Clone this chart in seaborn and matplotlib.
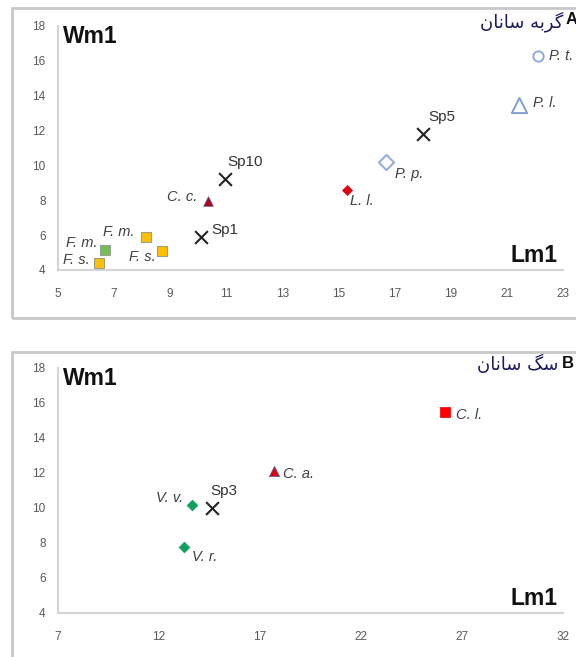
import matplotlib
matplotlib.use("Agg")
import matplotlib.pyplot as plt
import seaborn as sns
import pandas as pd
from matplotlib.patches import Rectangle

# ---------------- data ----------------
# Panel A (Felids)
a_labels = ["F. m.", "F. s.", "F. m.", "F. s.", "Sp1", "C. c.", "Sp10", "L. l.", "P. p.", "Sp5", "P. l.", "P. t."]
a_lm1 = [6.68, 6.47, 8.13, 8.72, 10.1, 10.36, 10.95, 15.29, 16.69, 18.02, 21.43, 22.1]
a_wm1 = [5.15, 4.38, 5.88, 5.11, 5.88, 7.96, 9.2, 8.59, 10.21, 11.78, 13.47, 16.28]
a_group = ["green_sq", "yellow_sq", "yellow_sq", "yellow_sq", "sp", "darkred_tri", "sp",
           "red_dia", "open_dia", "sp", "open_tri", "open_circ"]

# Panel B (Canids)
b_labels = ["V. v.", "Sp3", "V. r.", "C. a.", "C. l."]
b_lm1 = [13.65, 14.64, 13.25, 17.69, 26.16]
b_wm1 = [10.15, 9.97, 7.77, 12.11, 15.49]
b_group = ["green_dia", "sp", "green_dia", "red_tri", "red_sq"]

a_xticks = [5, 7, 9, 11, 13, 15, 17, 19, 21, 23]
b_xticks = [7, 12, 17, 22, 27, 32]
yticks = [4, 6, 8, 10, 12, 14, 16, 18]

# Persian titles in visual order using Arabic presentation forms
title_a = "\uFEE5\uFE8E\uFEE7\uFE8E\uFEB3 \uFEEA\uFE91\uFEAE\uFB94"   # گربه سانان
title_b = "\uFEE5\uFE8E\uFEE7\uFE8E\uFEB3 \uFB93\uFEB3"               # سگ سانان

# ---------------- styles ----------------
styles = {
    "green_sq":    dict(marker="s", s=48, color="#70C050", edgecolor="#9aa0a0", linewidth=0.8),
    "yellow_sq":   dict(marker="s", s=45, color="#FFC000", edgecolor="#a0a080", linewidth=0.8),
    "sp":          dict(marker="x", s=85, color="#222222", linewidth=1.5),
    "darkred_tri": dict(marker="^", s=50, color="#B00020", edgecolor="#6070a0", linewidth=0.5),
    "red_dia":     dict(marker="D", s=26, color="#E00010", edgecolor="#E00010", linewidth=0.5),
    "open_dia":    dict(marker="D", s=60, color="white", edgecolor="#8FAADC", linewidth=1.4),
    "open_tri":    dict(marker="^", s=120, color="white", edgecolor="#7F9FD0", linewidth=1.4),
    "open_circ":   dict(marker="o", s=55, color="white", edgecolor="#8FAADC", linewidth=1.4),
    "green_dia":   dict(marker="D", s=30, color="#10A060", edgecolor="#10A060", linewidth=0.5),
    "red_tri":     dict(marker="^", s=55, color="#E00010", edgecolor="#5060a0", linewidth=0.5),
    "red_sq":      dict(marker="s", s=55, color="#FF0000", edgecolor="#E00000", linewidth=0.5),
}

# label offsets in pixels (dx, dy, ha)
a_off = [(-8, 7, "right"), (-9, 3, "right"), (-11, 5, "right"), (-7, -6, "right"),
         (10, 7, "left"), (-11, 4, "right"), (2, 17, "left"), (3, -11, "left"),
         (9, -12, "left"), (5, 17, "left"), (14, 2, "left"), (11, 0, "left")]
b_off = [(-9, 7, "right"), (-2, 17, "left"), (8, -10, "left"), (9, -3, "left"), (11, -3, "left")]

sns.set_theme(style="white")
plt.rcParams["font.family"] = ["Liberation Sans", "DejaVu Sans"]

W, H = 576, 657
fig = plt.figure(figsize=(W / 100, H / 100), dpi=100)
fig.patch.set_facecolor("white")

def fx(px):
    return px / W

def fy(py):
    return 1 - py / H

# panel borders
fig.patches.append(Rectangle((fx(12), fy(318)), fx(600), 310 / H, transform=fig.transFigure,
                             fill=False, edgecolor="#c8c8c8", linewidth=2.0))
fig.patches.append(Rectangle((fx(12), fy(700)), fx(600), 348 / H, transform=fig.transFigure,
                             fill=False, edgecolor="#c8c8c8", linewidth=2.0))

def make_panel(rect, xs, ys, labels, groups, offs, xticks, xlim):
    ax = fig.add_axes(rect)
    ax.set_facecolor("none")
    df = pd.DataFrame({"Lm1": xs, "Wm1": ys, "label": labels, "group": groups})
    for g, sub in df.groupby("group", sort=False):
        st = styles[g]
        sns.scatterplot(data=sub, x="Lm1", y="Wm1", ax=ax, legend=False, zorder=3, **st)
    for (x, y, lab), (dx, dy, ha) in zip(zip(xs, ys, labels), offs):
        is_sp = lab.startswith("Sp")
        ax.annotate(lab, (x, y), xytext=(dx * 0.72, dy * 0.72), textcoords="offset points",
                    ha=ha, va="center", fontsize=11 if is_sp else 10.5,
                    style="normal" if is_sp else "italic",
                    color="#333333" if is_sp else "#404040", zorder=4, annotation_clip=False)
    ax.set_xlim(*xlim)
    ax.set_ylim(4, 18)
    ax.set_xticks(xticks)
    ax.set_yticks(yticks)
    ax.set_xlabel("")
    ax.set_ylabel("")
    for s in ["top", "right"]:
        ax.spines[s].set_visible(False)
    for s in ["left", "bottom"]:
        ax.spines[s].set_color("#d4d4d4")
        ax.spines[s].set_linewidth(1.5)
    ax.tick_params(axis="both", length=0, labelsize=8.5, labelcolor="#595959")
    ax.tick_params(axis="y", pad=9)
    ax.tick_params(axis="x", pad=13)
    ax.grid(False)
    ax.text(0.01, 0.955, "Wm1", transform=ax.transAxes, fontsize=16.5, fontweight="bold",
            color="#111111", ha="left", va="center")
    ax.text(0.99, 0.06, "Lm1", transform=ax.transAxes, fontsize=16.5, fontweight="bold",
            color="#111111", ha="right", va="center")
    return ax

axA = make_panel([fx(58), fy(270), fx(505), 244 / H], a_lm1, a_wm1, a_labels, a_group,
                 a_off, a_xticks, (5, 23))
axB = make_panel([fx(58), fy(612.7), fx(504.7), 245 / H], b_lm1, b_wm1, b_labels, b_group,
                 b_off, b_xticks, (7, 32))

fig.text(fx(563), fy(22), title_a, family=["DejaVu Sans"], fontsize=13, color="#1a1a60",
         ha="right", va="center")
fig.text(fx(566), fy(20), "A", fontsize=12, fontweight="bold", color="#111111", ha="left", va="center")
fig.text(fx(558), fy(364), title_b, family=["DejaVu Sans"], fontsize=13, color="#1a1a60",
         ha="right", va="center")
fig.text(fx(562), fy(363), "B", fontsize=12, fontweight="bold", color="#111111", ha="left", va="center")

fig.savefig("out.png", dpi=100, facecolor="white")
